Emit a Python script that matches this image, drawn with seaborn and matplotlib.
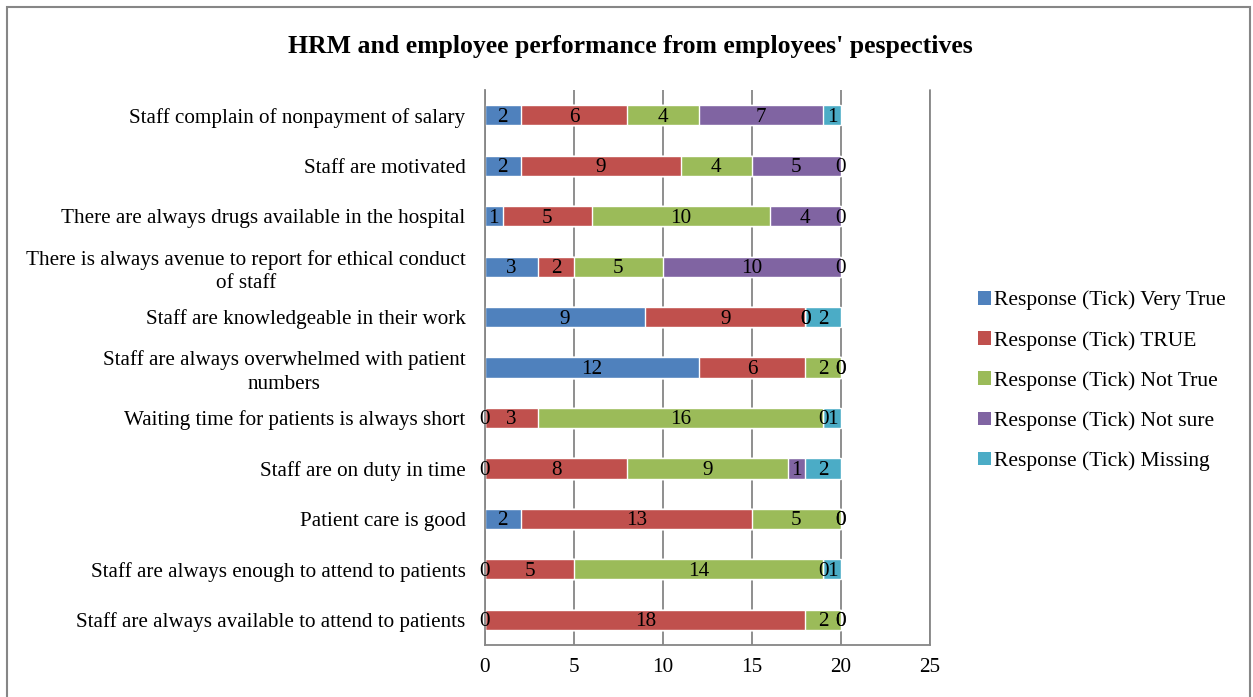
import matplotlib
matplotlib.use("Agg")
import numpy as np
import pandas as pd
import matplotlib.pyplot as plt
import seaborn as sns
from matplotlib.patches import Rectangle, Patch

sns.set_style("white")
plt.rcParams['font.family'] = ['Liberation Serif', 'DejaVu Serif']
plt.rcParams['text.color'] = 'black'
plt.rcParams['xtick.color'] = 'black'
plt.rcParams['ytick.color'] = 'black'

# Data, top row first
categories = [
    "Staff complain of nonpayment of salary",
    "Staff are motivated",
    "There are always drugs available in the hospital",
    "There is always avenue to report for ethical conduct of staff",
    "Staff are knowledgeable in their work",
    "Staff are always overwhelmed with patient numbers",
    "Waiting time for patients is always short",
    "Staff are on duty in time",
    "Patient care is good",
    "Staff are always enough to attend to patients",
    "Staff are always available to attend to patients",
]
tick_labels = [
    "Staff complain of nonpayment of salary",
    "Staff are motivated",
    "There are always drugs available in the hospital",
    "There is always avenue to report for ethical conduct\nof staff",
    "Staff are knowledgeable in their work",
    "Staff are always overwhelmed with patient\nnumbers",
    "Waiting time for patients is always short",
    "Staff are on duty in time",
    "Patient care is good",
    "Staff are always enough to attend to patients",
    "Staff are always available to attend to patients",
]
very_true = [2, 2, 1, 3, 9, 12, 0, 0, 2, 0, 0]
true_vals = [6, 9, 5, 2, 9, 6, 3, 8, 13, 5, 18]
not_true = [4, 4, 10, 5, 0, 2, 16, 9, 5, 14, 2]
not_sure = [7, 5, 4, 10, 0, 0, 0, 1, 0, 0, 0]
missing = [1, 0, 0, 0, 2, 0, 1, 2, 0, 1, 0]

series_names = ["Response (Tick) Very True", "Response (Tick) TRUE",
                "Response (Tick) Not True", "Response (Tick) Not sure",
                "Response (Tick) Missing"]
series_vals = [very_true, true_vals, not_true, not_sure, missing]
colors = ["#4F81BD", "#C0504D", "#9BBB59", "#8064A2", "#4BACC6"]

df = pd.DataFrame(dict(zip(series_names, series_vals)), index=categories)
cum = df.cumsum(axis=1)

fs = 15.2
grid_col = "#868686"

fig = plt.figure(figsize=(12.53, 6.97), dpi=100)
ax = fig.add_axes([485 / 1253, 1 - 645 / 697, 445 / 1253, 555 / 697])

# stacked bars by overlaying cumulative totals, last series first
for name, col in reversed(list(zip(series_names, colors))):
    sns.barplot(x=cum[name].values, y=categories, color=col, saturation=1,
                width=0.4, orient="h", errorbar=None, ax=ax, zorder=2)

# segment labels
for name in series_names:
    start = cum[name] - df[name]
    for i, v in enumerate(df[name]):
        ax.text(start.iloc[i] + v / 2, i + 0.04, str(v), ha="center",
                va="center", fontsize=fs, color="black", zorder=3)

ax.set_xlim(0, 25)
ax.set_ylim(10.5, -0.5)
ax.set_xticks(np.arange(0, 26, 5))
ax.set_yticks(range(len(categories)))
ax.set_yticklabels(tick_labels, multialignment="center", linespacing=1.3)
ax.set_yticks(np.arange(-0.5, len(categories), 1), minor=True)
ax.set_xlabel("")
ax.set_ylabel("")
ax.tick_params(axis="y", which="major", length=0, labelsize=fs, pad=14)
ax.tick_params(axis="y", which="minor", length=5, color=grid_col, width=1)
ax.tick_params(axis="x", which="major", length=5, color=grid_col, width=1,
               labelsize=fs, pad=4)
ax.grid(axis="x", color=grid_col, linewidth=1.3)
ax.grid(axis="y", visible=False)
ax.set_axisbelow(True)
ax.axvline(25, color=grid_col, linewidth=1.3, clip_on=False, zorder=0.5)
for s in ["top", "right"]:
    ax.spines[s].set_visible(False)
for s in ["left", "bottom"]:
    ax.spines[s].set_color(grid_col)
    ax.spines[s].set_linewidth(1.3)

handles = [Patch(facecolor=c, edgecolor="none") for c in colors]
fig.legend(handles, series_names, loc="center left",
           bbox_to_anchor=(967 / 1253, 1 - 381 / 697), frameon=False,
           fontsize=15.5, handlelength=0.6, handleheight=0.6,
           handletextpad=0.15, labelspacing=0.95, borderpad=0)

fig.text(0.503, 1 - 46 / 697,
         "HRM and employee performance from employees' pespectives",
         ha="center", va="center", fontsize=18.5, fontweight="bold")

fig.patches.append(Rectangle((7 / 1253, -0.05), 1243 / 1253, 1.05 - 7 / 697,
                             transform=fig.transFigure, fill=False,
                             edgecolor=grid_col, linewidth=1.5))

fig.savefig("out.png", dpi=100)
